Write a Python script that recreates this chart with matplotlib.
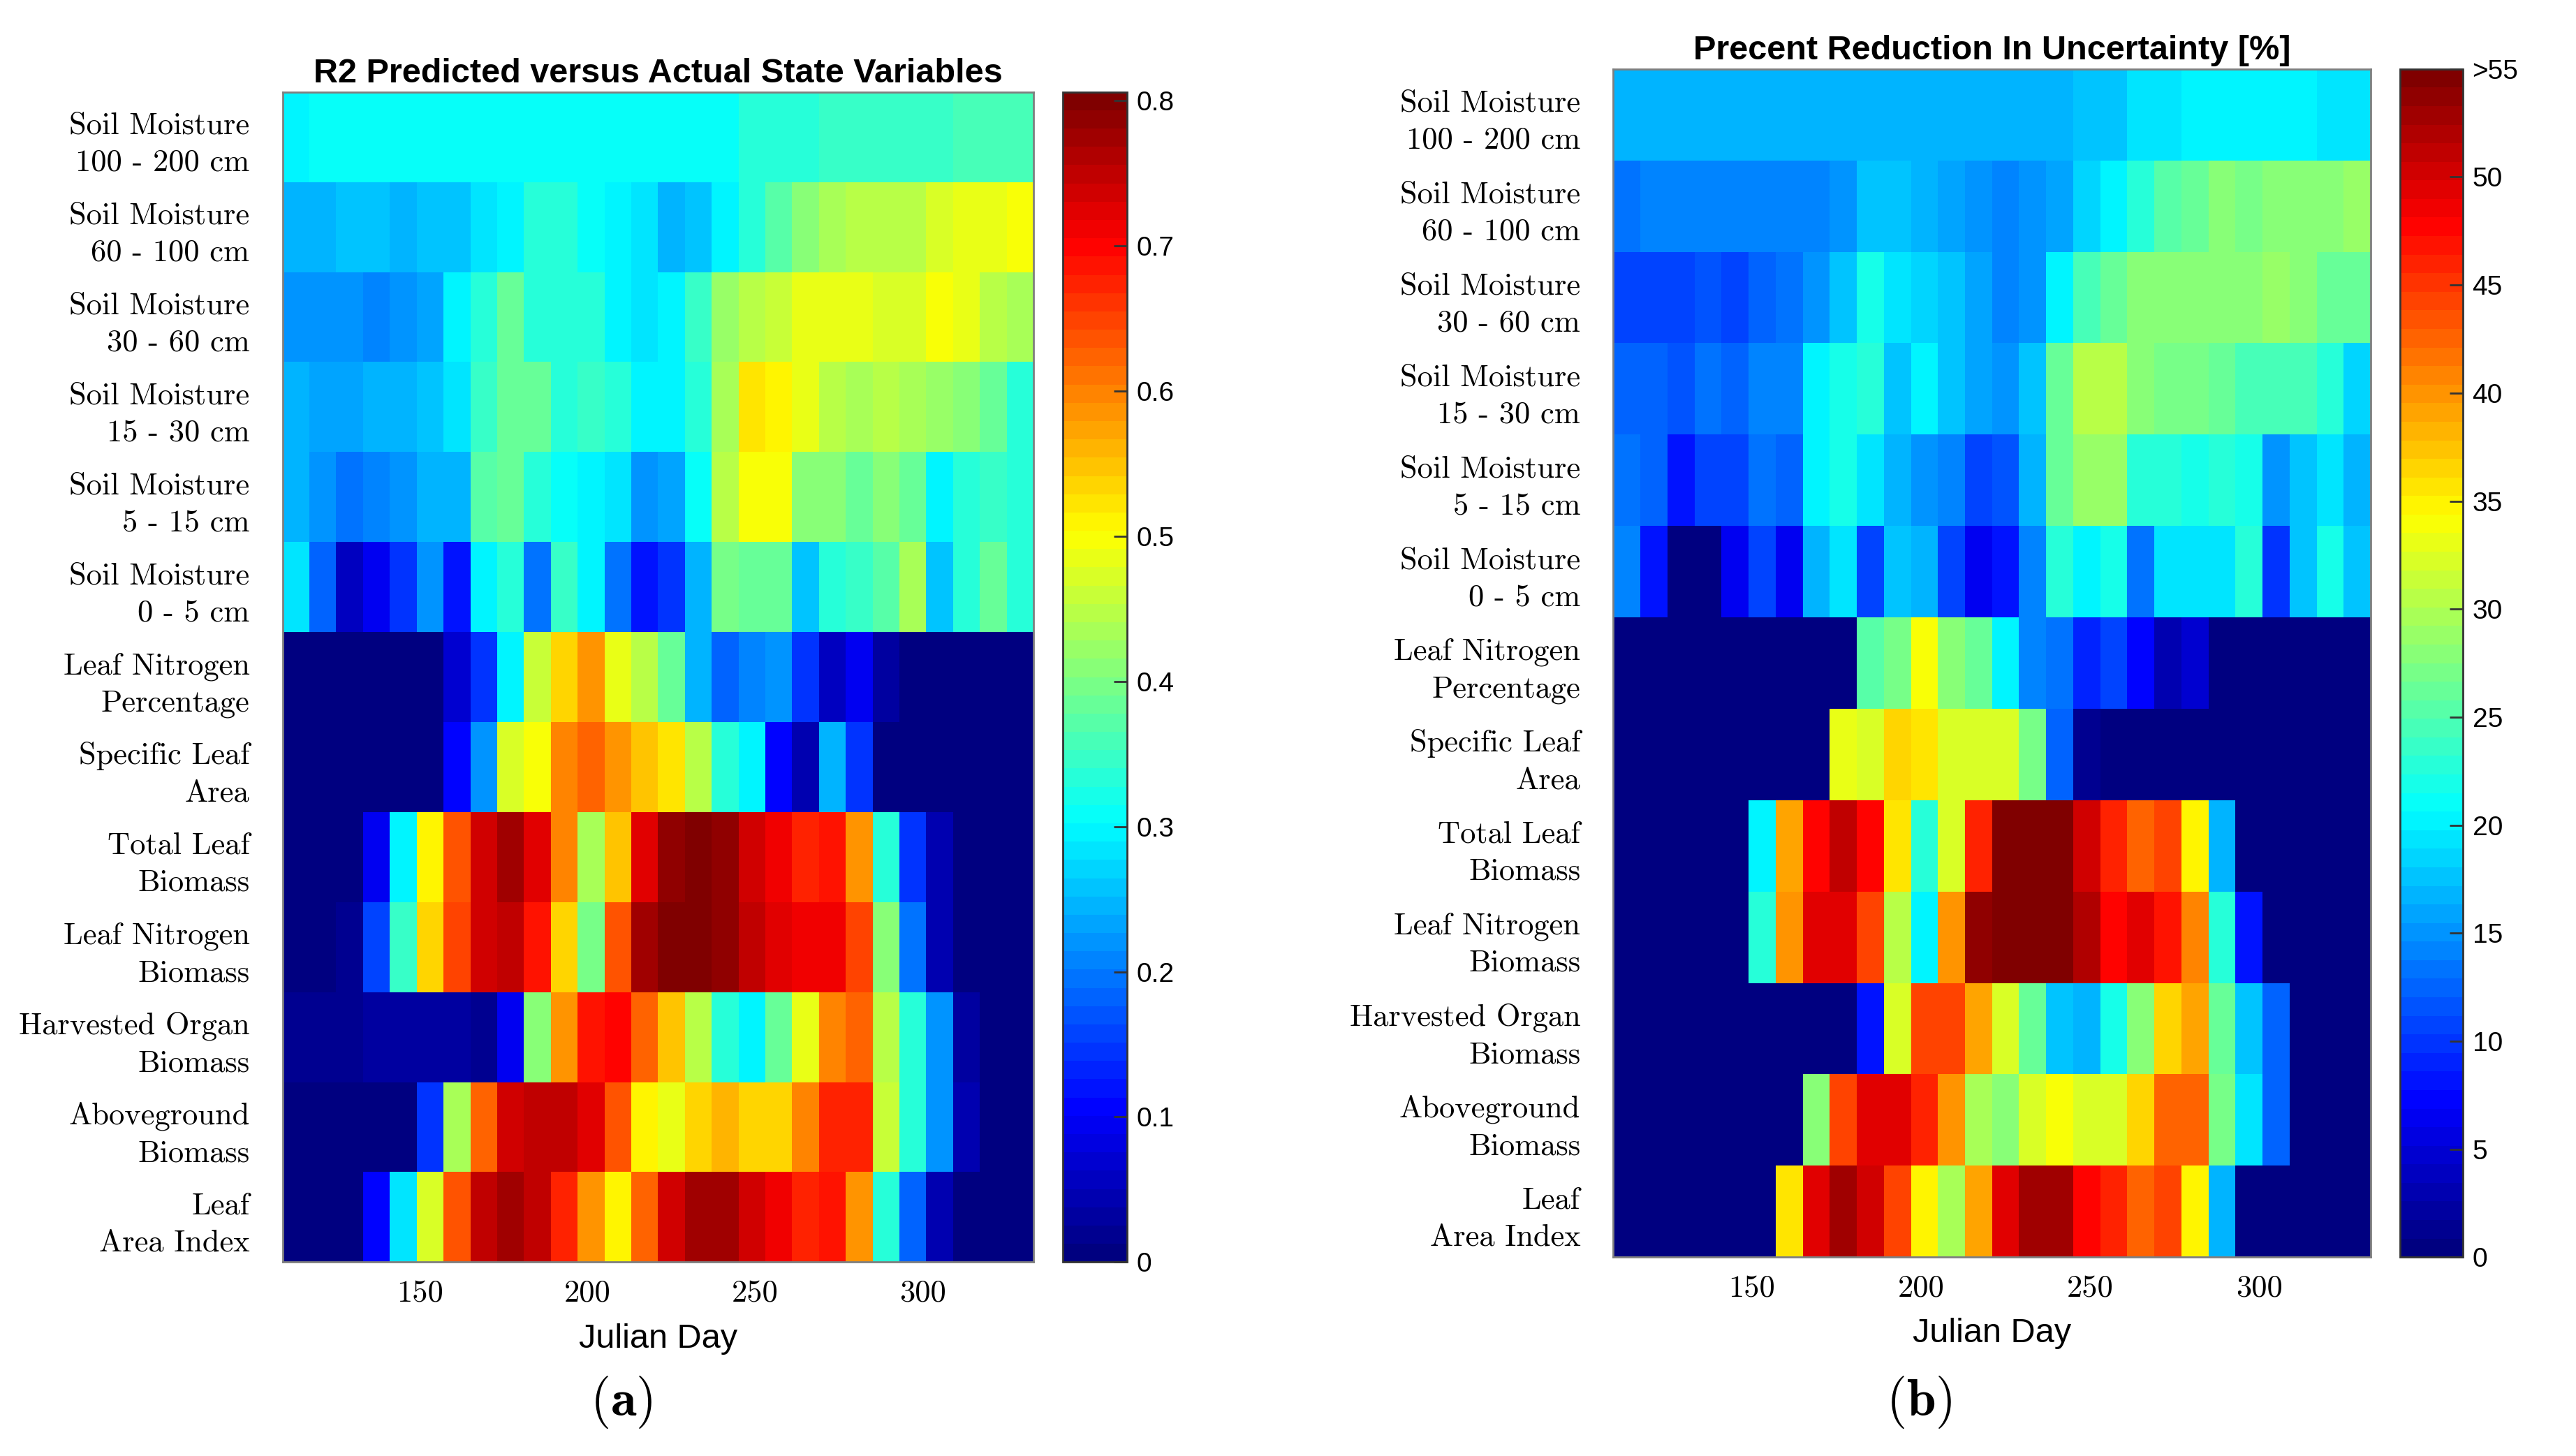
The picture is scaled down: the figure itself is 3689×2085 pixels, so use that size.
import numpy as np
import matplotlib
matplotlib.use('Agg')
import matplotlib.pyplot as plt
from matplotlib.colors import LinearSegmentedColormap

plt.rcParams['mathtext.fontset'] = 'cm'
plt.rcParams['axes.formatter.use_mathtext'] = True
plt.rcParams['font.family'] = ['Liberation Sans', 'DejaVu Sans']

# Julian day at the centre of each 8-day column
days = [113, 121, 129, 137, 145, 153, 161, 169, 177, 185, 193, 201, 209, 217,
        225, 233, 241, 249, 257, 265, 273, 281, 289, 297, 305, 313, 321, 329]

row_labels = ["Soil Moisture\n100 - 200 cm", "Soil Moisture\n60 - 100 cm",
              "Soil Moisture\n30 - 60 cm", "Soil Moisture\n15 - 30 cm",
              "Soil Moisture\n5 - 15 cm", "Soil Moisture\n0 - 5 cm",
              "Leaf Nitrogen\nPercentage", "Specific Leaf\nArea",
              "Total Leaf\nBiomass", "Leaf Nitrogen\nBiomass",
              "Harvested Organ\nBiomass", "Aboveground\nBiomass",
              "Leaf\nArea Index"]

# (a) R2 predicted vs actual
r2_sm_100_200 = [.30, .31, .31, .31, .31, .31, .31, .31, .31, .31, .31, .31, .31, .31,
                 .31, .31, .31, .33, .33, .34, .35, .35, .35, .35, .35, .36, .36, .36]
r2_sm_60_100 = [.25, .25, .26, .26, .24, .26, .26, .28, .29, .33, .33, .31, .30, .28,
                .24, .26, .30, .34, .37, .41, .43, .45, .45, .45, .47, .49, .49, .50]
r2_sm_30_60 = [.22, .22, .22, .21, .22, .23, .29, .33, .38, .34, .34, .34, .29, .28,
               .29, .35, .42, .45, .46, .49, .48, .49, .47, .47, .50, .49, .45, .43]
r2_sm_15_30 = [.25, .23, .23, .25, .25, .26, .28, .35, .39, .39, .33, .35, .33, .30,
               .29, .33, .43, .52, .51, .49, .45, .43, .45, .43, .42, .41, .39, .34]
r2_sm_5_15 = [.25, .22, .19, .21, .22, .25, .25, .37, .39, .34, .31, .29, .28, .22,
              .23, .31, .45, .50, .50, .41, .41, .38, .41, .39, .30, .34, .35, .33]
r2_sm_0_5 = [.28, .18, .06, .10, .15, .22, .12, .30, .34, .20, .35, .30, .20, .12,
             .15, .25, .40, .38, .39, .26, .34, .35, .37, .43, .26, .34, .39, .33]
r2_leaf_n_pct = [0, 0, 0, 0, 0, .01, .07, .15, .29, .46, .53, .58, .49, .45,
                 .38, .25, .18, .21, .22, .15, .06, .10, .03, 0, 0, 0, 0, 0]
r2_sla = [0, 0, 0, 0, 0, 0, .11, .22, .47, .50, .60, .62, .58, .55,
          .52, .45, .34, .29, .11, .05, .24, .14, 0, 0, 0, 0, 0, 0]
r2_leaf_biomass = [0, 0, 0, .10, .30, .51, .64, .74, .77, .72, .60, .43, .55, .72,
                   .79, .80, .79, .74, .71, .68, .69, .58, .33, .15, .04, 0, 0, 0]
r2_leaf_n_biomass = [0, 0, .02, .16, .35, .53, .65, .74, .75, .69, .53, .40, .64, .78,
                     .80, .80, .79, .75, .73, .71, .71, .65, .41, .20, .04, 0, 0, 0]
r2_harvested = [.02, .02, .02, .03, .03, .03, .03, .02, .10, .41, .58, .69, .70, .62,
                .55, .45, .33, .30, .39, .49, .60, .62, .45, .33, .22, .03, 0, 0]
r2_aboveground = [0, 0, 0, 0, 0, .15, .43, .62, .74, .75, .75, .72, .64, .51,
                  .49, .54, .56, .54, .54, .60, .67, .67, .46, .34, .22, .04, 0, 0]
r2_lai = [0, 0, .01, .11, .28, .47, .64, .75, .78, .75, .68, .58, .51, .62,
          .74, .78, .78, .74, .71, .67, .69, .58, .33, .18, .04, 0, 0, 0]

# (b) percent reduction in uncertainty
pr_sm_100_200 = [16.5, 16.8, 16.8, 16.8, 16.8, 16.8, 16.8, 16.8, 16.8, 16.8, 16.8, 16.8, 16.8, 16.8,
                 16.8, 16.8, 16.8, 17.6, 17.6, 19.0, 19.0, 19.8, 19.8, 19.8, 19.8, 19.8, 19.0, 19.0]
pr_sm_60_100 = [12.9, 13.8, 13.8, 13.8, 13.8, 13.8, 13.8, 14.3, 14.9, 17.6, 17.6, 16.5, 16.0, 15.1,
                13.8, 14.9, 16.0, 18.7, 20.6, 23.1, 25.3, 25.9, 27.5, 26.7, 27.5, 28.1, 28.1, 29.2]
pr_sm_30_60 = [11.0, 11.0, 11.0, 11.6, 11.0, 12.1, 12.9, 15.1, 17.3, 21.5, 19.0, 18.7, 17.3, 16.0,
               14.3, 15.4, 19.8, 24.2, 25.9, 27.5, 28.1, 27.5, 28.1, 27.5, 29.2, 28.1, 25.9, 25.9]
pr_sm_15_30 = [12.7, 12.7, 11.6, 13.2, 12.7, 14.3, 14.3, 19.8, 21.5, 22.6, 17.6, 19.8, 17.6, 16.0,
               15.1, 17.6, 25.9, 30.8, 30.8, 28.1, 26.7, 26.7, 25.9, 24.2, 24.2, 24.2, 22.6, 18.7]
pr_sm_5_15 = [13.2, 12.1, 8.0, 10.5, 10.5, 12.9, 12.7, 19.8, 21.5, 19.0, 17.1, 15.1, 14.3, 11.0,
              11.6, 17.1, 25.9, 29.2, 29.2, 23.1, 23.1, 21.5, 23.1, 21.5, 15.1, 17.6, 19.0, 17.1]
pr_sm_0_5 = [13.8, 8.0, 0, 0, 6.1, 11.0, 6.1, 16.5, 19.0, 10.5, 17.6, 16.5, 11.0, 6.1,
             8.0, 13.8, 22.6, 20.6, 21.5, 12.9, 19.0, 19.3, 19.0, 23.1, 9.9, 17.6, 21.5, 17.6]
pr_leaf_n_pct = [0, 0, 0, 0, 0, 0, 0, 0, 0, 25.3, 26.7, 33.6, 28.1, 25.9,
                 20.6, 13.8, 12.9, 9.4, 11.0, 7.7, 2.8, 5.0, 0, 0, 0, 0, 0, 0]
pr_sla = [0, 0, 0, 0, 0, 0, 0, 0, 33.0, 31.9, 36.6, 35.5, 32.5, 32.5,
          31.9, 26.7, 12.1, 1.7, 0, 0, 0, 0, 0, 0, 0, 0, 0, 0]
pr_leaf_biomass = [0, 0, 0, 0, 0, 19.8, 38.8, 48.1, 51.2, 47.3, 36.0, 23.1, 31.9, 46.2,
                   54.2, 56.0, 54.2, 50.1, 46.2, 42.9, 44.0, 34.4, 16.5, 0, 0, 0, 0, 0]
pr_leaf_n_biomass = [0, 0, 0, 0, 0, 23.1, 39.6, 49.5, 49.5, 44.0, 30.8, 20.6, 39.6, 53.4,
                     56.0, 56.0, 56.0, 51.7, 48.1, 49.0, 46.8, 40.7, 23.1, 8.3, 0, 0, 0, 0]
pr_harvested = [0, 0, 0, 0, 0, 0, 0, 0, 0, 8.3, 31.9, 44.0, 44.6, 38.8,
                32.5, 25.9, 17.6, 16.5, 21.5, 28.1, 36.9, 38.8, 25.9, 17.6, 12.1, 0, 0, 0]
pr_aboveground = [0, 0, 0, 0, 0, 0, 0, 28.1, 44.0, 49.5, 49.5, 46.2, 40.2, 29.4,
                  28.1, 31.9, 33.6, 31.9, 31.9, 36.6, 42.9, 42.9, 26.7, 19.0, 12.1, 0, 0, 0]
pr_lai = [0, 0, 0, 0, 0, 0, 35.5, 49.5, 52.8, 50.6, 44.6, 35.2, 29.7, 38.8,
          49.5, 52.5, 52.5, 48.1, 46.2, 42.9, 44.0, 34.4, 17.1, 0, 0, 0, 0, 0]

r2_rows = [r2_sm_100_200, r2_sm_60_100, r2_sm_30_60, r2_sm_15_30, r2_sm_5_15, r2_sm_0_5,
           r2_leaf_n_pct, r2_sla, r2_leaf_biomass, r2_leaf_n_biomass, r2_harvested,
           r2_aboveground, r2_lai]
pr_rows = [pr_sm_100_200, pr_sm_60_100, pr_sm_30_60, pr_sm_15_30, pr_sm_5_15, pr_sm_0_5,
           pr_leaf_n_pct, pr_sla, pr_leaf_biomass, pr_leaf_n_biomass, pr_harvested,
           pr_aboveground, pr_lai]

r2_ticks = [0, 0.1, 0.2, 0.3, 0.4, 0.5, 0.6, 0.7, 0.8]
r2_ticklabels = ['0', '0.1', '0.2', '0.3', '0.4', '0.5', '0.6', '0.7', '0.8']
pr_ticks = [0, 5, 10, 15, 20, 25, 30, 35, 40, 45, 50, 55]
pr_ticklabels = ['0', '5', '10', '15', '20', '25', '30', '35', '40', '45', '50', '>55']
day_ticks = [150, 200, 250, 300]

# MATLAB-style jet with 64 levels
cmap = LinearSegmentedColormap.from_list(
    'mjet', [(0, (0, 0, 0.5)), (1 / 8, (0, 0, 1)), (3 / 8, (0, 1, 1)),
             (5 / 8, (1, 1, 0)), (7 / 8, (1, 0, 0)), (1, (0.5, 0, 0))], N=64)
serif = 'cmr10'

fig = plt.figure(figsize=(36.89, 20.85), dpi=100)


def draw_panel(ax_rect, cax_rect, rows, vmax, title, cticks, clabels, letter, letter_x):
    ax = fig.add_axes(ax_rect)
    cax = fig.add_axes(cax_rect)
    d = np.array(days, dtype=float)
    x_edges = np.concatenate([d - 4, [d[-1] + 4]])
    y_edges = np.arange(len(row_labels) + 1)
    mesh = ax.pcolormesh(x_edges, y_edges, np.array(rows), cmap=cmap,
                         vmin=0, vmax=vmax, shading='flat')
    ax.set_ylim(len(row_labels), 0)
    ax.set_xlim(x_edges[0], x_edges[-1])
    ax.set_yticks(np.arange(len(row_labels)) + 0.5)
    ax.set_yticklabels(row_labels, fontfamily=serif, fontsize=32, linespacing=1.42)
    ax.set_xticks(day_ticks)
    ax.set_xticklabels([str(t) for t in day_ticks], fontfamily=serif, fontsize=32)
    ax.tick_params(axis='y', length=0, pad=34)
    ax.tick_params(axis='x', length=0, pad=18)
    for s in ax.spines.values():
        s.set_color('#7f7f7f')
        s.set_linewidth(2)
    ax.set_title(title, fontsize=35, fontweight='bold', pad=10)
    ax.set_xlabel('Julian Day', fontsize=35, labelpad=16)

    cb = fig.colorbar(mesh, cax=cax, ticks=cticks)
    cb.ax.set_yticklabels(clabels)
    cb.ax.tick_params(direction='in', length=14, width=2, labelsize=28, pad=10,
                      color='#333333')
    cb.outline.set_edgecolor('#333333')
    cb.outline.set_linewidth(2)

    fig.text(letter_x, 0.037, r'$(\mathbf{' + letter + '})$', fontsize=54,
             ha='center', va='center')


draw_panel([0.1097, 0.1332, 0.2915, 0.8036], [0.4126, 0.1332, 0.0249, 0.8036],
           r2_rows, 0.806, 'R2 Predicted versus Actual State Variables',
           r2_ticks, r2_ticklabels, 'a', 0.2411)
draw_panel([0.6263, 0.1366, 0.2940, 0.8160], [0.9318, 0.1366, 0.0242, 0.8160],
           pr_rows, 55, 'Precent Reduction In Uncertainty [%]',
           pr_ticks, pr_ticklabels, 'b', 0.7449)

fig.savefig('out.png', dpi=100)
